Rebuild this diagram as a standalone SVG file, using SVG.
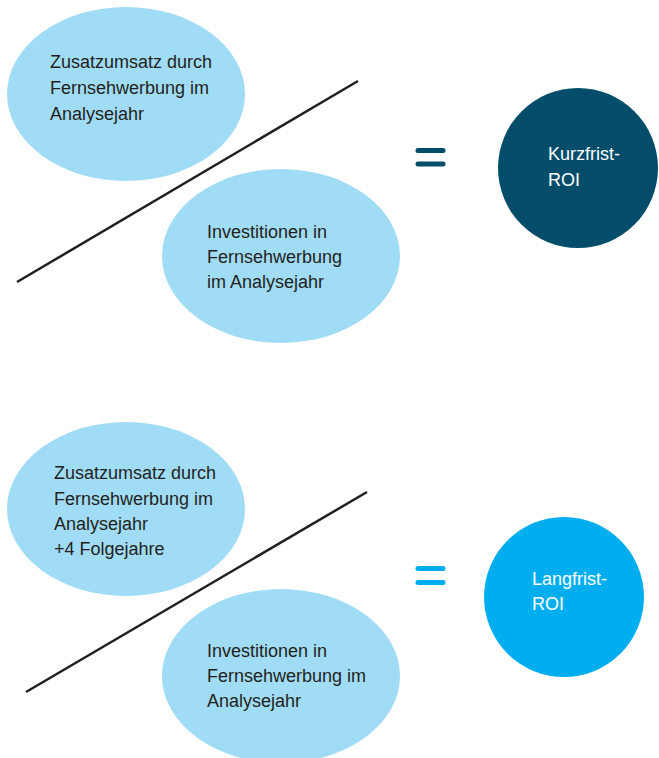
<svg xmlns="http://www.w3.org/2000/svg" width="659" height="758" viewBox="0 0 659 758">
  <style>
    .blob { fill: #a0dcf6; }
    .lbl { font-family: "Liberation Sans Narrow", "Liberation Sans", Arial, sans-serif; font-size: 18px; fill: #231f20; }
    .lbl-w { font-family: "Liberation Sans Narrow", "Liberation Sans", Arial, sans-serif; font-size: 18px; fill: #ffffff; }
    .divide { stroke: #231f20; stroke-width: 2.5; fill: none; }
    .eq { stroke-width: 5; stroke-linecap: round; fill: none; }
  </style>
  <rect width="659" height="758" fill="#ffffff"/>

  <!-- Short-term ROI -->
  <g id="st-numerator">
    <ellipse class="blob" cx="126" cy="94" rx="119" ry="87"/>
    <text class="lbl" x="50"><tspan x="50" y="68">Zusatzumsatz durch</tspan><tspan x="50" y="94">Fernsehwerbung im</tspan><tspan x="50" y="120">Analysejahr</tspan></text>
  </g>
  <g id="st-denominator">
    <ellipse class="blob" cx="281" cy="256" rx="119" ry="87"/>
    <text class="lbl"><tspan x="207" y="238">Investitionen in</tspan><tspan x="207" y="263">Fernsehwerbung</tspan><tspan x="207" y="288">im Analysejahr</tspan></text>
  </g>
  <g id="st-equals">
    <line class="eq" x1="418" y1="150.5" x2="443" y2="150.5" stroke="#034d6b"/>
    <line class="eq" x1="418" y1="164" x2="443" y2="164" stroke="#034d6b"/>
  </g>
  <g id="st-result">
    <circle cx="578" cy="168" r="80" fill="#034d6b"/>
    <text class="lbl-w"><tspan x="548" y="160">Kurzfrist-</tspan><tspan x="548" y="186">ROI</tspan></text>
  </g>

  <!-- Long-term ROI -->
  <g id="lt-numerator">
    <ellipse class="blob" cx="126" cy="509" rx="119" ry="87"/>
    <text class="lbl"><tspan x="54" y="479">Zusatzumsatz durch</tspan><tspan x="54" y="505">Fernsehwerbung im</tspan><tspan x="54" y="530">Analysejahr</tspan><tspan x="54" y="555">+4 Folgejahre</tspan></text>
  </g>
  <g id="lt-denominator">
    <ellipse class="blob" cx="281" cy="676" rx="119" ry="87"/>
    <text class="lbl"><tspan x="207" y="657">Investitionen in</tspan><tspan x="207" y="682">Fernsehwerbung im</tspan><tspan x="207" y="707">Analysejahr</tspan></text>
  </g>
  <g id="lt-equals">
    <line class="eq" x1="418" y1="568.5" x2="443" y2="568.5" stroke="#00aeef"/>
    <line class="eq" x1="418" y1="582.5" x2="443" y2="582.5" stroke="#00aeef"/>
  </g>
  <g id="lt-result">
    <circle cx="564" cy="597" r="80" fill="#00aeef"/>
    <text class="lbl-w"><tspan x="532" y="585">Langfrist-</tspan><tspan x="532" y="610">ROI</tspan></text>
  </g>

  <!-- Fraction bars -->
  <g id="connectors">
    <line class="divide" x1="17" y1="282" x2="358" y2="81"/>
    <line class="divide" x1="26" y1="692" x2="367" y2="492"/>
  </g>
</svg>
